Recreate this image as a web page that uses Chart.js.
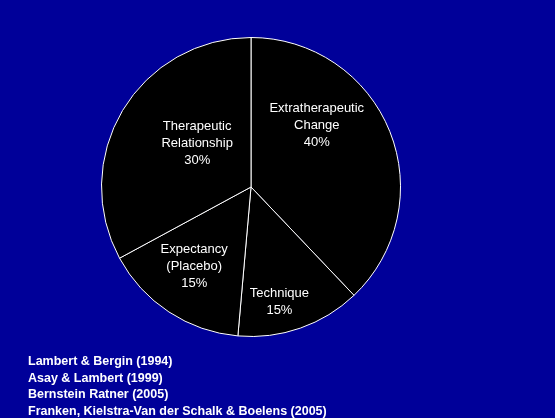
<!DOCTYPE html>
<html>
<head>
<meta charset="utf-8">
<script src="https://cdn.jsdelivr.net/npm/chart.js@4.4.0/dist/chart.umd.min.js"></script>
<style>
  html,body{margin:0;padding:0;background:#000099;}
  #wrap{position:relative;width:555px;height:418px;}
  #refs{position:absolute;left:28px;top:353px;color:#fff;font:bold 12.5px "Liberation Sans",Arial,sans-serif;line-height:16.5px;}
</style>
</head>
<body>
<div id="wrap">
  <canvas id="pie" width="555" height="418"></canvas>
  <div id="refs">
    Lambert &amp; Bergin (1994)<br>
    Asay &amp; Lambert (1999)<br>
    Bernstein Ratner (2005)<br>
    Franken, Kielstra-Van der Schalk &amp; Boelens (2005)
  </div>
</div>
<script>
/* ---- data ---- */
const categories = ['Extratherapeutic\nChange', 'Technique', 'Expectancy\n(Placebo)', 'Therapeutic\nRelationship'];
const shareLabels = ['40%', '15%', '15%', '30%'];
// slice sizes as drawn in the picture (it is not drawn to the exact stated shares)
const sliceValues = [37.9, 13.5, 15.7, 32.9];
// label placement relative to pie center, in units of radius
const labelOffsets = [[0.44,-0.41],[0.19,0.77],[-0.38,0.53],[-0.36,-0.29]];

const sliceLabels = {
  id: 'sliceLabels',
  afterDatasetsDraw(chart) {
    const ctx = chart.ctx;
    const arcs = chart.getDatasetMeta(0).data;
    ctx.save();
    ctx.fillStyle = '#fff';
    ctx.font = '13px "Liberation Sans", Arial, sans-serif';
    ctx.textAlign = 'center';
    ctx.textBaseline = 'middle';
    arcs.forEach((a, i) => {
      const lines = categories[i].split('\n').concat([shareLabels[i]]);
      const cx = a.x + labelOffsets[i][0] * a.outerRadius;
      const cy = a.y + labelOffsets[i][1] * a.outerRadius;
      const lh = 17;
      lines.forEach((t, j) => ctx.fillText(t, cx, cy + (j - (lines.length - 1) / 2) * lh));
    });
    ctx.restore();
  }
};

new Chart(document.getElementById('pie'), {
  type: 'pie',
  data: {
    labels: categories,
    datasets: [{ data: sliceValues, backgroundColor: '#000', borderColor: '#fff', borderWidth: 1 }]
  },
  options: {
    responsive: false,
    animation: false,
    layout: { padding: { left: 101, top: 37, right: 154, bottom: 81 } },
    plugins: { legend: { display: false }, tooltip: { enabled: false } }
  },
  plugins: [sliceLabels]
});
</script>
</body>
</html>
